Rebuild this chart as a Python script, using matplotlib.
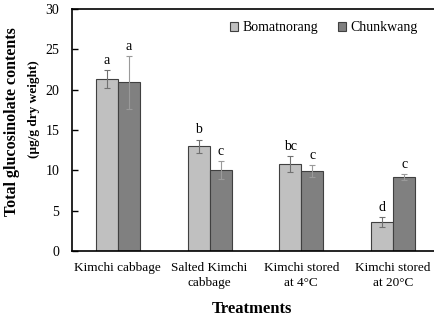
import numpy as np
import matplotlib
matplotlib.use("Agg")
import matplotlib.pyplot as plt

# data
treatments = ["Kimchi cabbage", "Salted Kimchi\ncabbage",
              "Kimchi stored\nat 4\u00b0C", "Kimchi stored\nat 20\u00b0C"]
bomat = [21.3, 13.0, 10.8, 3.6]
bomat_err = [1.1, 0.8, 1.0, 0.6]
bomat_sig = ["a", "b", "bc", "d"]
chunk = [20.9, 10.0, 9.9, 9.2]
chunk_err = [3.3, 1.1, 0.7, 0.35]
chunk_sig = ["a", "c", "c", "c"]

plt.rcParams['font.family'] = ['Liberation Serif', 'DejaVu Serif']

fig = plt.figure(figsize=(4.35, 3.19), dpi=100)
ax = fig.add_axes([72/435, 68/319, 367/435, 242/319])

x = np.arange(len(treatments))
w = 0.24
ax.bar(x - w/2, bomat, w, color="#c0c0c0", edgecolor="#404040", linewidth=0.8,
       label="Bomatnorang")
ax.bar(x + w/2, chunk, w, color="#808080", edgecolor="#404040", linewidth=0.8,
       label="Chunkwang")
ax.errorbar(x - w/2, bomat, yerr=bomat_err, fmt="none", ecolor="#707070",
            elinewidth=0.8, capsize=2.5, capthick=0.8)
ax.errorbar(x + w/2, chunk, yerr=chunk_err, fmt="none", ecolor="#9a9a9a",
            elinewidth=0.8, capsize=2.5, capthick=0.8)

for i in range(len(x)):
    ax.text(x[i] - w/2, bomat[i] + bomat_err[i] + 0.4, bomat_sig[i],
            ha="center", va="bottom", fontsize=10)
    ax.text(x[i] + w/2, chunk[i] + chunk_err[i] + 0.4, chunk_sig[i],
            ha="center", va="bottom", fontsize=10)

ax.set_xlim(-0.5, 3.5)
ax.set_ylim(0, 30)
ax.set_yticks([0, 5, 10, 15, 20, 25, 30])
ax.set_xticks(x)
ax.set_xticklabels(treatments, fontsize=9.5, linespacing=1.35)
ax.tick_params(axis="x", length=0, pad=8)
ax.tick_params(axis="y", direction="in", length=4, width=1, labelsize=10, pad=9)
ax.spines["right"].set_visible(False)
for s in ["left", "top", "bottom"]:
    ax.spines[s].set_linewidth(1.2)

ax.legend(loc="upper right", bbox_to_anchor=(0.975, 1.0), ncol=2, frameon=False,
          fontsize=10, handlelength=0.6, handleheight=0.6, handletextpad=0.3,
          columnspacing=1.4)

fig.text(252/435, 1 - 309/319, "Treatments", ha="center", va="center",
         fontsize=12, fontweight="bold")
fig.text(12.5/435, 1 - 122/319, "Total glucosinolate contents", rotation=90,
         ha="center", va="center", fontsize=11.5, fontweight="bold")
fig.text(34/435, 1 - 109/319, "(\u00b5g/g dry weight)", rotation=90,
         ha="center", va="center", fontsize=9.5, fontweight="bold")

fig.savefig("out.png", dpi=100)
